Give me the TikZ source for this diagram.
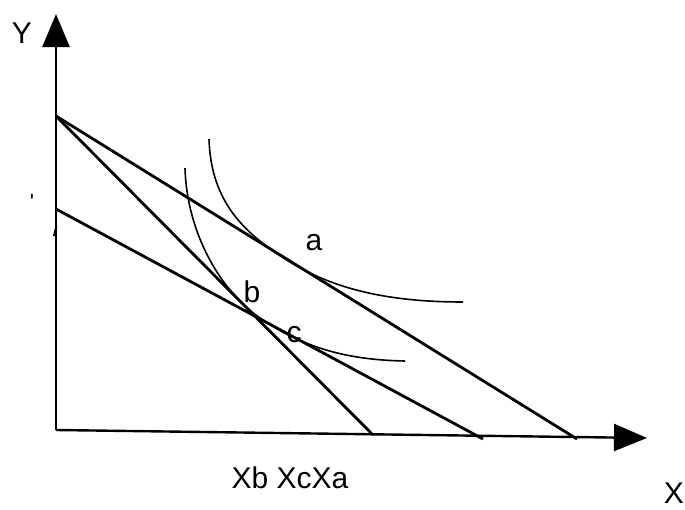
\documentclass[tikz,border=0pt]{standalone}
\usepackage{fontspec}
\setmainfont{Liberation Sans}
\usetikzlibrary{arrows.meta}
\begin{document}
\begin{tikzpicture}[x=1pt,y=-1pt,
  axis/.style={line width=2.4pt,-{Triangle[length=33pt,width=27pt]}},
  budget/.style={line width=2.8pt},
  indiff/.style={line width=1.6pt},
  lbl/.style={font=\fontsize{30}{36}\selectfont,inner sep=0pt}]
\useasboundingbox (0,0) rectangle (685,509);
% coordinates
\coordinate (O) at (56,430);
\coordinate (Ytip) at (56,14);
\coordinate (Xtip) at (647,438);
\coordinate (T1) at (56,116);
\coordinate (T3) at (56,209);
\coordinate (Xa) at (577,439);
\coordinate (Xb) at (373,435);
\coordinate (Xc) at (483,439);
% axes
\draw[axis] (O) -- (Ytip);
\draw[axis] (O) -- (Xtip);
% budget lines
\draw[budget] (T1) -- (Xa);
\draw[budget] (T1) -- (Xb);
\draw[budget] (T3) -- (Xc);
% indifference curves
\draw[indiff] (209,139) .. controls (211,203) and (245,234) .. (290,262)
   .. controls (340,293) and (400,302) .. (463,302);
\draw[indiff] (185,168) .. controls (187,235) and (222,292) .. (260,318)
   .. controls (305,349) and (350,360) .. (405,361);
% small marks
\node[lbl,font=\fontsize{22}{26}\selectfont,anchor=north] (tick) at (32,194) {\textquotesingle};
\draw[line width=2pt] (54,236) -- (56.5,226);
% labels
\node[lbl,anchor=base] (Ylbl) at (22,43) {Y};
\node[lbl,anchor=base east] (Xlbl) at (684,503) {X};
\node[lbl] (la) at (314,243) {a};
\node[lbl] (lb) at (252,292) {b};
\node[lbl] (lc) at (294,335) {c};
\node[lbl,anchor=base] (xs) at (290,488) {Xb XcXa};
\end{tikzpicture}
\end{document}
